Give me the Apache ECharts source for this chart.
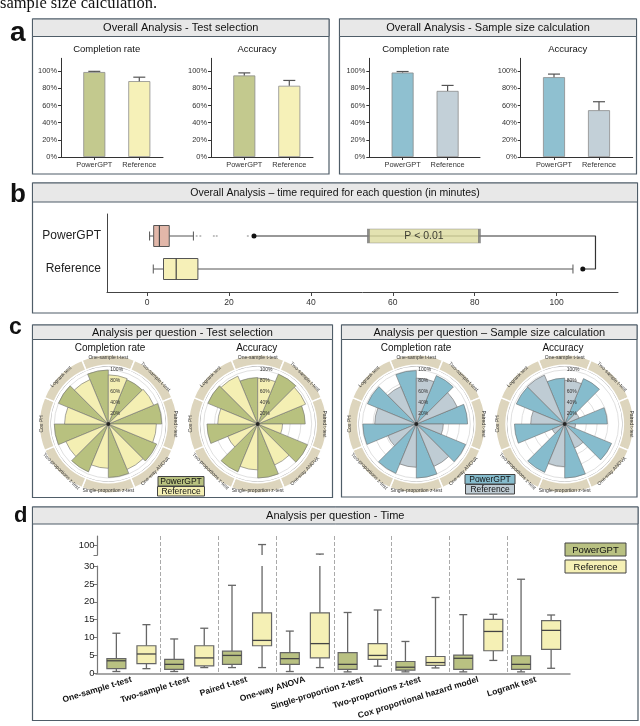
<!DOCTYPE html>
<html><head><meta charset="utf-8">
<script src="https://cdn.jsdelivr.net/npm/echarts@6/dist/echarts.min.js"></script>
<style>html,body{margin:0;padding:0;background:#fff}#c{width:640px;height:726px}</style>
</head><body><div id="c"></div>
<script>
const F = '"Liberation Sans", Arial, Helvetica, sans-serif';

// ---------- DATA ----------
const groups = ['PowerGPT', 'Reference'];
const pctTicks = [0, 20, 40, 60, 80, 100];
// panel a (mean and top of error bar, %)
const tsCompletion = [99.0, 88.4];
const tsCompletionErrTop = [99.8, 93.0];
const tsAccuracy = [95.0, 83.0];
const tsAccuracyErrTop = [98.0, 89.2];
const ssCompletion = [98.4, 77.0];
const ssCompletionErrTop = [99.6, 83.4];
const ssAccuracy = [93.0, 54.5];
const ssAccuracyErrTop = [96.6, 64.4];

// panel b (minutes): [min, q1, median, q3, max]
const timeTicks = [0, 20, 40, 60, 80, 100];
const timePG = [0.6, 1.6, 3.0, 5.4, 11.3];
const timeRef = [1.5, 4.0, 7.1, 12.4, 104.0];
const timePGOutliers = [12.1, 13.0, 16.3, 17.0, 24.6];
const sigEnds = [26.1, 106.4];
const sigBracket = 109.5;
const sigText = 'P < 0.01';
const sigTextAt = 67.6;

// panel c (% per question)
const questions = ['One-sample t-test', 'Two-sample t-test', 'Paired t-test', 'One-way ANOVA',
  'Single-proportion z-test', 'Two-proportions z-test', 'Cox PH', 'Logrank test'];
const tsCompPG = [100, 89, 99, 97, 99, 96, 100, 100];
const tsCompRef = [91, 91, 89, 91, 82, 85, 81, 89];
const tsAccPG = [86, 100, 88, 100, 100, 96, 94, 100];
const tsAccRef = [85, 96, 46, 82, 85, 60, 74, 96];
const ssCompPG = [99, 97, 95, 99, 100, 99, 99, 98];
const ssCompRef = [85, 82, 50, 85, 80, 57, 77, 75];
const ssAccPG = [85, 91, 79, 94, 100, 97, 93, 97];
const ssAccRef = [81, 29, 20, 48, 79, 25, 63, 98];

// panel d (minutes): [min, q1, median, q3, max]
const questionsD = ['One-sample t-test', 'Two-sample t-test', 'Paired t-test', 'One-way ANOVA',
  'Single-proportion z-test', 'Two-proportions z-test', 'Cox proportional hazard model', 'Logrank test'];
const timeQPG = [
  [0.5, 1.3, 3.5, 4.1, 11.2],
  [0.5, 1.1, 2.5, 3.9, 9.6],
  [1.6, 2.5, 5.0, 6.2, 24.6],
  [0.5, 2.5, 4.1, 5.8, 11.8],
  [0.4, 1.1, 2.5, 5.8, 17.0],
  [0.4, 0.9, 1.7, 3.3, 8.9],
  [0.4, 1.1, 4.2, 5.1, 16.4],
  [0.4, 1.1, 2.5, 4.9, 26.3]
];
const timeQRef = [
  [1.3, 2.7, 5.4, 7.7, 13.6],
  [1.6, 2.1, 4.3, 7.7, 12.6],
  [1.6, 7.7, 9.2, 16.9, 101],
  [1.6, 4.3, 8.3, 16.9, 91],
  [2.0, 3.9, 5.0, 8.3, 17.7],
  [1.5, 2.2, 3.0, 4.7, 21.2],
  [3.6, 6.3, 11.7, 15.1, 16.5],
  [1.4, 6.7, 12.0, 14.7, 16.3]
];
const dUpTicks = [90, 100];
const dUpLabels = [100];

// ---------- STYLE ----------
const C = {
  tsPG: '#c3c98e', tsRef: '#f6f1b8', ssPG: '#8fc0d0', ssRef: '#c3d0d8',
  cTsPG: '#b8c17f', cTsRef: '#f4efb3', cSsPG: '#86bccd', cSsRef: '#bfccd4',
  dPG: '#b9c182', dRef: '#f5f0b5',
  bPG: '#e2b7a9', bRef: '#f6f0b8', ring: '#ddd5bd', border: '#4f5d68', head: '#e8e8e8'
};
const chart = echarts.init(document.getElementById('c'));

const grid = [], xAxis = [], yAxis = [], series = [];

// ---------- panel a ----------
function errRender(params, api) {
  const x = api.value(0), v = api.value(1), e = api.value(2);
  const p0 = api.coord([x, v]), p1 = api.coord([x, e]);
  const st = { stroke: '#555', lineWidth: 1.2 };
  return { type: 'group', children: [
    { type: 'line', shape: { x1: p0[0], y1: p0[1], x2: p1[0], y2: p1[1] }, style: st },
    { type: 'line', shape: { x1: p1[0] - 6, y1: p1[1], x2: p1[0] + 6, y2: p1[1] }, style: st }
  ]};
}
function barPanel(axisX, endX, vals, errs, colors) {
  const gi = grid.length;
  const w = endX - axisX;
  grid.push({ left: axisX, top: 58.3, width: w, height: 98.7 });
  xAxis.push({ gridIndex: gi, type: 'value', min: -0.74, max: -0.74 + w / 45,
    axisLine: { show: true, onZero: false, lineStyle: { color: '#333', width: 1 } },
    axisTick: { show: true, customValues: [0, 1], length: 3, lineStyle: { color: '#333' } },
    axisLabel: { customValues: [0, 1], formatter: v => groups[v], fontSize: 7.4, color: '#333', fontFamily: F, margin: 4 },
    splitLine: { show: false } });
  yAxis.push({ gridIndex: gi, type: 'value', min: 0, max: 115,
    axisLine: { show: true, onZero: false, lineStyle: { color: '#333', width: 1 } },
    axisTick: { show: true, customValues: pctTicks, length: 3, lineStyle: { color: '#333' } },
    axisLabel: { customValues: pctTicks, formatter: v => v + '%', fontSize: 7.4, color: '#333', fontFamily: F, margin: 4 },
    splitLine: { show: false } });
  series.push({ type: 'bar', xAxisIndex: gi, yAxisIndex: gi, barWidth: 22,
    data: vals.map((v, k) => ({ value: [k, v], itemStyle: { color: colors[k] } })),
    itemStyle: { borderColor: '#8c8c8c', borderWidth: 0.8 }, silent: true });
  series.push({ type: 'custom', xAxisIndex: gi, yAxisIndex: gi, renderItem: errRender,
    data: vals.map((v, k) => [k, v, errs[k]]), silent: true, z: 3 });
}
barPanel(61, 163, tsCompletion, tsCompletionErrTop, [C.tsPG, C.tsRef]);
barPanel(211, 313, tsAccuracy, tsAccuracyErrTop, [C.tsPG, C.tsRef]);
barPanel(369.3, 480, ssCompletion, ssCompletionErrTop, [C.ssPG, C.ssRef]);
barPanel(520.7, 632.7, ssAccuracy, ssAccuracyErrTop, [C.ssPG, C.ssRef]);

// ---------- panel b ----------
const gb = grid.length;
grid.push({ left: 107, top: 214, width: 511, height: 78 });
xAxis.push({ gridIndex: gb, type: 'value', min: -9.8, max: 115,
  axisLine: { show: true, onZero: false, lineStyle: { color: '#444' } },
  axisTick: { show: true, customValues: timeTicks, length: 4, lineStyle: { color: '#444' } },
  axisLabel: { customValues: timeTicks, fontSize: 8.5, color: '#333', fontFamily: F, margin: 6 },
  splitLine: { show: false } });
yAxis.push({ gridIndex: gb, type: 'value', inverse: true, min: -0.667, max: 1.697,
  axisLine: { show: true, onZero: false, lineStyle: { color: '#444' } },
  axisTick: { show: false },
  axisLabel: { customValues: [0, 1], formatter: v => groups[v], fontSize: 12, color: '#222', fontFamily: F, margin: 6 },
  splitLine: { show: false } });
const bColors = [C.bPG, C.bRef];
function hBox(params, api) {
  const y = api.value(0);
  const c = [1, 2, 3, 4, 5].map(i => api.coord([api.value(i), y]));
  const cy = c[0][1], h = 21, cap = 9;
  const st = { stroke: '#555', lineWidth: 1 };
  return { type: 'group', children: [
    { type: 'line', shape: { x1: c[0][0], y1: cy, x2: c[1][0], y2: cy }, style: st },
    { type: 'line', shape: { x1: c[3][0], y1: cy, x2: c[4][0], y2: cy }, style: st },
    { type: 'line', shape: { x1: c[0][0], y1: cy - cap / 2, x2: c[0][0], y2: cy + cap / 2 }, style: st },
    { type: 'line', shape: { x1: c[4][0], y1: cy - cap / 2, x2: c[4][0], y2: cy + cap / 2 }, style: st },
    { type: 'rect', shape: { x: c[1][0], y: cy - h / 2, width: c[3][0] - c[1][0], height: h },
      style: { fill: bColors[params.dataIndex], stroke: '#555', lineWidth: 1 } },
    { type: 'line', shape: { x1: c[2][0], y1: cy - h / 2, x2: c[2][0], y2: cy + h / 2 }, style: { stroke: '#444', lineWidth: 1.2 } }
  ]};
}
series.push({ type: 'custom', xAxisIndex: gb, yAxisIndex: gb, renderItem: hBox, silent: true,
  data: [[0, ...timePG], [1, ...timeRef]] });
series.push({ type: 'scatter', xAxisIndex: gb, yAxisIndex: gb, symbolSize: 2.2, silent: true,
  itemStyle: { color: '#a8a8a8' }, data: timePGOutliers.map(v => [v, 0]) });
series.push({ type: 'line', xAxisIndex: gb, yAxisIndex: gb, silent: true, z: 3,
  lineStyle: { color: '#333', width: 1.2 }, itemStyle: { color: '#111' },
  data: [
    { value: [sigEnds[0], 0], symbol: 'circle', symbolSize: 5 },
    { value: [sigBracket, 0], symbol: 'none' },
    { value: [sigBracket, 1], symbol: 'none' },
    { value: [sigEnds[1], 1], symbol: 'circle', symbolSize: 5 }
  ] });
series.push({ type: 'scatter', xAxisIndex: gb, yAxisIndex: gb, silent: true, z: 5,
  symbol: 'rect', symbolSize: [111, 14],
  itemStyle: { color: '#dcdb9e', borderColor: '#777', borderWidth: 1 },
  label: { show: true, position: 'inside', formatter: sigText, fontSize: 10.5, color: '#111', fontFamily: F },
  data: [[sigTextAt, 0]] });

// ---------- panel d ----------
const D_LEFT = 102.5, D_W = 462.5;
const gdBg = grid.length;
grid.push({ left: D_LEFT, top: 536, width: D_W, height: 137 });
xAxis.push({ gridIndex: gdBg, type: 'category', data: questionsD,
  axisLine: { show: false }, axisTick: { show: false }, axisLabel: { show: false, interval: 0 },
  splitLine: { show: true, interval: 0, showMinLine: false, showMaxLine: false, lineStyle: { type: 'dashed', color: '#aaa', width: 1 } } });
yAxis.push({ gridIndex: gdBg, type: 'value', show: false, min: 0, max: 1 });

// x axis baseline spanning from the y axis
const gdLine = grid.length;
grid.push({ left: 96, top: 566, width: 474, height: 107.3 });
xAxis.push({ gridIndex: gdLine, type: 'category', data: questionsD,
  axisLine: { show: true, lineStyle: { color: '#8a8a8a', width: 1.5 } }, axisTick: { show: false },
  axisLabel: { show: false }, splitLine: { show: false } });
yAxis.push({ gridIndex: gdLine, type: 'value', show: false, min: 0, max: 1 });

const gdLow = grid.length;
grid.push({ left: D_LEFT, top: 566, width: D_W, height: 107.3 });
xAxis.push({ gridIndex: gdLow, type: 'category', data: questionsD,
  axisLine: { show: false }, axisTick: { show: false },
  axisLabel: { interval: 0, rotate: 17, fontSize: 8.5, fontWeight: 'bold', color: '#111', fontFamily: F, margin: 6 },
  splitLine: { show: false } });
yAxis.push({ gridIndex: gdLow, type: 'value', min: 0, max: 30, interval: 5, offset: 5,
  axisLine: { show: true, onZero: false, lineStyle: { color: '#777', width: 1.2 } },
  axisTick: { show: true, length: 4, lineStyle: { color: '#777' } },
  axisLabel: { fontSize: 9.5, color: '#222', fontFamily: F, margin: 3 },
  splitLine: { show: false } });

const gdUp = grid.length;
grid.push({ left: D_LEFT, top: 536, width: D_W, height: 19 });
xAxis.push({ gridIndex: gdUp, type: 'category', data: questionsD, show: false });
yAxis.push({ gridIndex: gdUp, type: 'value', min: 90, max: 110, offset: 5,
  axisLine: { show: true, onZero: false, lineStyle: { color: '#777', width: 1.2 } },
  axisTick: { show: true, customValues: dUpTicks, length: 4, lineStyle: { color: '#777' } },
  axisLabel: { customValues: dUpLabels, fontSize: 9.5, color: '#222', fontFamily: F, margin: 3 },
  splitLine: { show: false } });

const D_LOW_MAX = 30, D_UP_MIN = 90;
function vBox(off, color, part) {
  return function (params, api) {
    const x = api.value(0);
    const v = [1, 2, 3, 4, 5].map(i => api.value(i));
    const band = api.size([1, 0])[0];
    const cx = api.coord([x, 0])[0] + off * band;
    const Y = t => api.coord([x, t])[1];
    const bw = 19, cap = 8;
    const st = { stroke: '#666', lineWidth: 1.3 };
    const ch = [];
    if (part === 'low') {
      const top = Math.min(v[4], D_LOW_MAX);
      ch.push({ type: 'line', shape: { x1: cx, y1: Y(v[0]), x2: cx, y2: Y(v[1]) }, style: st });
      ch.push({ type: 'line', shape: { x1: cx, y1: Y(v[3]), x2: cx, y2: Y(top) }, style: st });
      ch.push({ type: 'line', shape: { x1: cx - cap / 2, y1: Y(v[0]), x2: cx + cap / 2, y2: Y(v[0]) }, style: st });
      if (v[4] <= D_LOW_MAX) ch.push({ type: 'line', shape: { x1: cx - cap / 2, y1: Y(v[4]), x2: cx + cap / 2, y2: Y(v[4]) }, style: st });
      ch.push({ type: 'rect', shape: { x: cx - bw / 2, y: Y(v[3]), width: bw, height: Y(v[1]) - Y(v[3]) },
        style: { fill: color, stroke: '#666', lineWidth: 1.2 } });
      ch.push({ type: 'line', shape: { x1: cx - bw / 2, y1: Y(v[2]), x2: cx + bw / 2, y2: Y(v[2]) }, style: { stroke: '#444', lineWidth: 1.3 } });
    } else if (v[4] > D_UP_MIN) {
      ch.push({ type: 'line', shape: { x1: cx, y1: Y(D_UP_MIN), x2: cx, y2: Y(v[4]) }, style: st });
      ch.push({ type: 'line', shape: { x1: cx - cap / 2, y1: Y(v[4]), x2: cx + cap / 2, y2: Y(v[4]) }, style: st });
    }
    return { type: 'group', children: ch };
  };
}
[['low', gdLow], ['up', gdUp]].forEach(([part, gi]) => {
  series.push({ type: 'custom', xAxisIndex: gi, yAxisIndex: gi, silent: true, renderItem: vBox(-0.26, C.dPG, part),
    data: timeQPG.map((r, i) => [i, ...r]) });
  series.push({ type: 'custom', xAxisIndex: gi, yAxisIndex: gi, silent: true, renderItem: vBox(0.26, C.dRef, part),
    data: timeQRef.map((r, i) => [i, ...r]) });
});

// ---------- panel c ----------
const polar = [], angleAxis = [], radiusAxis = [];
const polarCharts = [
  { c: [108.3, 424], pg: tsCompPG, ref: tsCompRef, col: [C.cTsPG, C.cTsRef] },
  { c: [257.7, 424], pg: tsAccPG, ref: tsAccRef, col: [C.cTsPG, C.cTsRef] },
  { c: [416.3, 424], pg: ssCompPG, ref: ssCompRef, col: [C.cSsPG, C.cSsRef] },
  { c: [564.7, 424], pg: ssAccPG, ref: ssAccRef, col: [C.cSsPG, C.cSsRef] }
];
polarCharts.forEach((p, i) => {
  polar.push({ center: p.c, radius: 54 });
  angleAxis.push({ polarIndex: i, type: 'category', data: questions, startAngle: 112.5, clockwise: true,
    axisLine: { show: false },
    axisTick: { show: false }, axisLabel: { show: false }, splitLine: { show: false } });
  radiusAxis.push({ polarIndex: i, type: 'value', min: 0, max: 100, interval: 20,
    axisLine: { show: false }, axisTick: { show: false }, axisLabel: { show: false },
    splitLine: { show: true, lineStyle: { color: '#d8d8d8', width: 0.8 } } });
  series.push({ type: 'bar', coordinateSystem: 'polar', polarIndex: i, data: p.pg, barGap: '0%', barCategoryGap: '0%',
    itemStyle: { color: p.col[0], borderColor: '#6f6f6f', borderWidth: 0.6 }, silent: true });
  series.push({ type: 'bar', coordinateSystem: 'polar', polarIndex: i, data: p.ref, barGap: '0%', barCategoryGap: '0%',
    itemStyle: { color: p.col[1], borderColor: '#6f6f6f', borderWidth: 0.6 }, silent: true });
  series.push({ type: 'scatter', coordinateSystem: 'polar', polarIndex: i, data: [[0, 0]], symbolSize: 4,
    itemStyle: { color: '#111' }, silent: true, z: 4 });
  series.push({ type: 'pie', center: p.c, radius: [58.5, 69], startAngle: 112.5, silent: true,
    avoidLabelOverlap: false, emphasis: { disabled: true },
    itemStyle: { color: C.ring, borderColor: '#fff', borderWidth: 1.5 },
    label: { show: true, position: 'inside', rotate: 'tangential', fontSize: 5, color: '#333', fontFamily: F },
    labelLine: { show: false },
    data: questions.map(q => ({ name: q, value: 1 })) });
});
polarCharts.forEach((p, i) => {
  const j = polarCharts.length + i;
  polar.push({ center: p.c, radius: 58 });
  angleAxis.push({ polarIndex: j, type: 'value', min: 0, max: 360, startAngle: 90,
    axisLine: { show: true, lineStyle: { color: '#a0a0a0', width: 0.8 } },
    axisTick: { show: false }, axisLabel: { show: false }, splitLine: { show: false } });
  radiusAxis.push({ polarIndex: j, type: 'value', min: 0, max: 107.4, interval: 20,
    axisLine: { show: false }, axisTick: { show: false }, splitLine: { show: false },
    axisLabel: { show: true, customValues: [20, 40, 60, 80, 100], formatter: v => v + '%', fontSize: 5, color: '#333', fontFamily: F, margin: -2, align: 'left' },
    z: 5 });
});

// ---------- graphics ----------
const g = [];
function txt(x, y, text, font, align, extra) {
  g.push(Object.assign({ type: 'text', x, y, style: { text, font, fill: '#111', textAlign: align || 'center', textVerticalAlign: 'middle' } }, extra || {}));
}
function panel(x, y, w, h, hh, title, fs) {
  g.push({ type: 'rect', shape: { x, y, width: w, height: h }, style: { fill: '#fff', stroke: C.border, lineWidth: 1.2 }, z: -10 });
  g.push({ type: 'rect', shape: { x, y, width: w, height: hh }, style: { fill: C.head, stroke: C.border, lineWidth: 1 }, z: -9 });
  txt(x + w / 2, y + hh / 2 + 0.5, title, fs + 'px ' + F, 'center', { z: -8 });
}
function legendBox(x, y, w, h, label, fill, fs) {
  g.push({ type: 'rect', shape: { x, y, width: w, height: h }, style: { fill, stroke: '#444', lineWidth: 1 } });
  txt(x + w / 2, y + h / 2 + 0.5, label, fs + 'px ' + F, 'center');
}
txt(0, 3.8, 'sample size calculation.', '16.5px "Liberation Serif", "Times New Roman", serif', 'left');
panel(32.5, 19, 296.5, 155, 17.5, 'Overall Analysis - Test selection', 11);
panel(339.5, 19, 297, 155, 17.5, 'Overall Analysis - Sample size calculation', 11);
panel(32.5, 183, 605, 130, 19, 'Overall Analysis \u2013 time required for each question (in minutes)', 10.5);
panel(32.5, 325, 300, 172.5, 14.5, 'Analysis per question - Test selection', 11);
panel(341.5, 325, 295.5, 172, 14.5, 'Analysis per question \u2013 Sample size calculation', 11);
panel(32.5, 507, 605.5, 213.5, 17, 'Analysis per question - Time', 11);
txt(10, 33.6, 'a', 'bold 28px ' + F, 'left');
txt(10, 195, 'b', 'bold 26px ' + F, 'left');
txt(9, 328, 'c', 'bold 23px ' + F, 'left');
txt(14, 515.6, 'd', 'bold 22px ' + F, 'left');
[[106.7, 'Completion rate'], [257, 'Accuracy'], [415.7, 'Completion rate'], [567.7, 'Accuracy']]
  .forEach(([x, t]) => txt(x, 49.3, t, '9.5px ' + F));
[[110, 'Completion rate'], [256.7, 'Accuracy'], [416, 'Completion rate'], [563, 'Accuracy']]
  .forEach(([x, t]) => txt(x, 348.3, t, '10px ' + F));
legendBox(158, 476.5, 46, 9.5, groups[0], C.cTsPG, 8.5);
legendBox(157.5, 486.5, 47, 9.5, groups[1], C.cTsRef, 8.5);
legendBox(465, 474.5, 50, 9.5, groups[0], C.cSsPG, 8.5);
legendBox(465.5, 484.5, 49, 9.5, groups[1], C.cSsRef, 8.5);
legendBox(565, 543, 61, 13, groups[0], C.dPG, 9.5);
legendBox(565, 560, 61, 13, groups[1], C.dRef, 9.5);

chart.setOption({
  animation: false,
  grid, xAxis, yAxis, polar, angleAxis, radiusAxis, series,
  graphic: { elements: g }
});
</script></body></html>
